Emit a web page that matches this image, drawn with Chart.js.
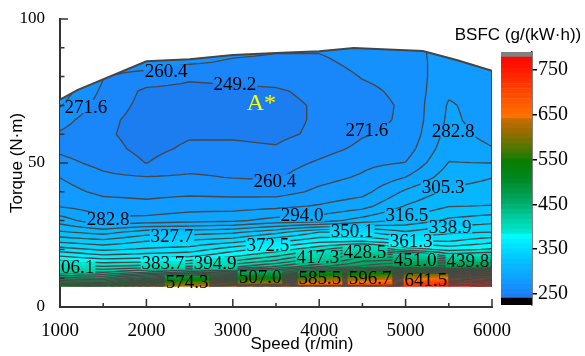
<!DOCTYPE html>
<html><head><meta charset="utf-8">
<script src="https://cdn.jsdelivr.net/npm/chart.js@4"></script>
<style>
html,body{margin:0;padding:0;background:#fff;}
#wrap{position:relative;width:585px;height:356px;overflow:hidden;}
#main{position:absolute;left:0;top:0;}
#cb{position:absolute;left:440px;top:0;}
</style></head><body>
<div id="wrap">
<canvas id="main" width="585" height="356"></canvas>
<canvas id="cb" width="145" height="356"></canvas>
</div>
<script>
// ---------- data ----------
const speeds  = [1000,1500,2000,2500,3000,3500,4000,4500,5000,5500,6000];
const torques = [7,8.5,10,12,14,16,18,20,23,26,30,35,40,45,50,55,60,65,70,75,80,85,90];
// BSFC (g/(kW·h)) per speed column, one value per torque row
const bsfc_1000 = [540,490,455,425,403,385,370,355,335,318,300,282,276,271.5,264,258,259,265,272.5,278,283,287,290];
const bsfc_1500 = [530,485,450,418,396,378,362,348,330,312,285,277,269,263,257,253,251,252,255,258,261,265,269];
const bsfc_2000 = [600,540,480,430,400,380,365,352,338,322,287,275,268,261,249,246,245,245,246,247,256,266,272];
const bsfc_2500 = [640,580,510,445,408,385,368,355,340,322,290,278,269,262,256,251,248,246,245,246,251,262,268];
const bsfc_3000 = [650,590,530,460,415,395,380,368,345,325,292,278,268,260,256,251,248,246,246,247,252,259,264];
const bsfc_3500 = [680,610,530,470,430,408,392,378,358,335,298,280,267,259,255,250,247,246,246,248,253,258,262];
const bsfc_4000 = [700,640,590,500,450,428,410,392,368,350,300,284,274,268,262,256,251,250.5,250.5,252,254,258,262];
const bsfc_4500 = [720,660,600,520,465,450,438,410,370,351,310,290,279,273,269,263,259.5,257,256,258,261,264,266];
const bsfc_5000 = [740,690,630,540,480,455,430,390,361,340,320,306,296,283,272,266,263,262,262,263,264,265,266];
const bsfc_5500 = [760,720,660,560,480,441,400,380,360,348,330,316,308,300,294.5,290,287,285,284,281,279,278,278];
const bsfc_6000 = [770,740,680,580,490,438,405,385,368,350,335,317,310,305,294,283.5,279,278,278,279,280,281,282];
const bsfcColumns = [bsfc_1000,bsfc_1500,bsfc_2000,bsfc_2500,bsfc_3000,bsfc_3500,bsfc_4000,bsfc_4500,bsfc_5000,bsfc_5500,bsfc_6000];

// full-load (max torque) curve and lower limit
const maxTorqueSpeeds = [1000,1200,2000,2500,3000,3500,4000,4400,5200,5600,6000];
const maxTorqueValues = [72,75.3,85.3,86,87.5,88.2,88.8,89.9,88.9,85.7,82];
const minTorque = 7;

// contour levels
const levelFirst = 249.2, levelStep = 11.2086;

// contour labels
const labelTexts   = ['260.4','249.2','271.6','271.6','282.8','260.4','282.8','294.0','305.3','316.5','338.9','327.7','350.1','361.3','372.5','383.7','394.9','406.1','417.3','428.5','451.0','439.8','574.3','507.0','585.5','596.7','641.5'];
const labelSpeeds  = [2227,3025,1300,4553,5549,3488,1556,3801,5433,5016,5514,2296,4380,5063,3407,2192,2794,1150,3986,4530,5109,5722,2470,3315,4009,4588,5236];
const labelTorques = [81.8,77.3,69.6,61.6,61.2,43.8,30.5,31.9,41.7,31.9,27.8,24.6,26.4,22.9,21.5,15.2,15.2,13.9,17.3,19.0,16.3,15.9,8.6,10.3,10.0,10.0,9.3];
const optimumText = 'A*', optimumSpeed = 3330, optimumTorque = 70.5;

// colour scale
const cbTicks = [250,350,450,550,650,750];
const cbLow = 241, cbHigh = 779, cbUnder = 225.4, cbOver = 790.2;
const cmapStops = [
  [238, 28,120,235],[255, 25,135,250],[270, 20,148,255],[290, 12,165,255],
  [320, 5,190,255],[350, 0,220,255],[382, 0,255,255],[383, 0,235,215],
  [420, 0,205,160],[460, 0,165,95],[510, 0,135,30],[545, 10,125,0],
  [580, 90,118,0],[615, 160,108,0],[645, 205,108,0],[646, 255,115,0],
  [700, 255,70,0],[750, 255,25,0],[790, 255,0,0]
];

// ---------- helpers ----------
const SERIF = '"Liberation Serif","Times New Roman",serif';
const SANS = '"Liberation Sans",Arial,sans-serif';
const grid = torques.map((t, j) => speeds.map((s, i) => bsfcColumns[i][j]));

function cmap(v) {
  if (v <= cmapStops[0][0]) return cmapStops[0].slice(1);
  for (let k = 0; k < cmapStops.length - 1; k++) {
    const a = cmapStops[k], b = cmapStops[k+1];
    if (v <= b[0]) {
      const f = (v - a[0]) / (b[0] - a[0]);
      return [0,1,2].map(c => Math.round(a[c+1] + (b[c+1]-a[c+1])*f));
    }
  }
  return cmapStops[cmapStops.length-1].slice(1);
}
function bandColor(v) {
  const base = levelFirst - levelStep;
  const k = Math.floor((v - base) / levelStep);
  return cmap(base + (k + 0.5) * levelStep);
}
function bilinear(s, t) {
  s = Math.min(Math.max(s, speeds[0]), speeds[speeds.length-1]);
  t = Math.min(Math.max(t, torques[0]), torques[torques.length-1]);
  let i = 0; while (i < speeds.length - 2 && s > speeds[i+1]) i++;
  let j = 0; while (j < torques.length - 2 && t > torques[j+1]) j++;
  const fs = (s - speeds[i]) / (speeds[i+1] - speeds[i]);
  const ft = (t - torques[j]) / (torques[j+1] - torques[j]);
  return grid[j][i]*(1-fs)*(1-ft) + grid[j][i+1]*fs*(1-ft) + grid[j+1][i]*(1-fs)*ft + grid[j+1][i+1]*fs*ft;
}
// refined grid for contour tracing
const R = 4;
function refine(arr) { const out = []; for (let i = 0; i < arr.length-1; i++) for (let a = 0; a < R; a++) out.push(arr[i] + (arr[i+1]-arr[i])*a/R); out.push(arr[arr.length-1]); return out; }
const RS = refine(speeds), RT = refine(torques);
const RV = RT.map(t => RS.map(s => bilinear(s, t)));
function contourSegments(level) {
  const segs = [];
  for (let j = 0; j < RT.length-1; j++) for (let i = 0; i < RS.length-1; i++) {
    const a = RV[j][i], b = RV[j][i+1], c = RV[j+1][i+1], d = RV[j+1][i];
    let idx = 0; if (a>level) idx|=1; if (b>level) idx|=2; if (c>level) idx|=4; if (d>level) idx|=8;
    if (idx === 0 || idx === 15) continue;
    const s0 = RS[i], s1 = RS[i+1], t0 = RT[j], t1 = RT[j+1];
    const e = (va, vb) => (level - va) / (vb - va);
    const pB = () => [s0 + (s1-s0)*e(a,b), t0];
    const pR = () => [s1, t0 + (t1-t0)*e(b,c)];
    const pT = () => [s0 + (s1-s0)*e(d,c), t1];
    const pL = () => [s0, t0 + (t1-t0)*e(a,d)];
    const m = (a+b+c+d)/4;
    switch (idx) {
      case 1: case 14: segs.push([pL(), pB()]); break;
      case 2: case 13: segs.push([pB(), pR()]); break;
      case 3: case 12: segs.push([pL(), pR()]); break;
      case 4: case 11: segs.push([pR(), pT()]); break;
      case 6: case 9: segs.push([pB(), pT()]); break;
      case 7: case 8: segs.push([pL(), pT()]); break;
      case 5: if (m > level) { segs.push([pL(),pT()]); segs.push([pB(),pR()]); } else { segs.push([pL(),pB()]); segs.push([pR(),pT()]); } break;
      case 10: if (m > level) { segs.push([pL(),pB()]); segs.push([pR(),pT()]); } else { segs.push([pL(),pT()]); segs.push([pB(),pR()]); } break;
    }
  }
  return segs;
}
function boundaryPath(ctx, x, y) {
  ctx.beginPath();
  ctx.moveTo(x.getPixelForValue(speeds[0]), y.getPixelForValue(minTorque));
  ctx.lineTo(x.getPixelForValue(speeds[speeds.length-1]), y.getPixelForValue(minTorque));
  for (let k = maxTorqueSpeeds.length - 1; k >= 0; k--) ctx.lineTo(x.getPixelForValue(maxTorqueSpeeds[k]), y.getPixelForValue(maxTorqueValues[k]));
  ctx.closePath();
}
const LABEL_FONT = '19px ' + SERIF;

const fieldPlugin = {
  id: 'field',
  beforeDatasetsDraw(chart) {
    const {ctx, chartArea: ca, scales: {x, y}} = chart;
    const L = Math.floor(ca.left), T = Math.floor(ca.top);
    const W = Math.ceil(ca.right) - L, H = Math.ceil(ca.bottom) - T;
    const off = document.createElement('canvas'); off.width = W; off.height = H;
    const octx = off.getContext('2d');
    const img = octx.createImageData(W, H);
    for (let py = 0; py < H; py++) {
      const t = y.getValueForPixel(T + py + 0.5);
      for (let px = 0; px < W; px++) {
        const s = x.getValueForPixel(L + px + 0.5);
        const c = bandColor(bilinear(s, t));
        const q = (py*W + px)*4;
        img.data[q] = c[0]; img.data[q+1] = c[1]; img.data[q+2] = c[2]; img.data[q+3] = 255;
      }
    }
    octx.putImageData(img, 0, 0);
    ctx.save();
    boundaryPath(ctx, x, y); ctx.clip();
    ctx.drawImage(off, L, T);
    // clip out label boxes
    ctx.font = LABEL_FONT;
    ctx.beginPath();
    ctx.rect(ca.left - 10, ca.top - 10, ca.right - ca.left + 20, ca.bottom - ca.top + 20);
    labelTexts.forEach((txt, k) => {
      const w = ctx.measureText(txt).width + 2;
      const cx = x.getPixelForValue(labelSpeeds[k]), cy = y.getPixelForValue(labelTorques[k]);
      ctx.rect(cx - w/2, cy - 6.5, w, 13);
    });
    ctx.clip('evenodd');
    ctx.strokeStyle = '#474747'; ctx.lineCap = 'butt'; ctx.lineJoin = 'round';
    for (let lv = levelFirst; lv < cbOver; lv += levelStep) {
      const segs = contourSegments(lv);
      ctx.lineWidth = lv > 460 ? 1.0 : 1.35;
      ctx.beginPath();
      segs.forEach(sg => {
        ctx.moveTo(x.getPixelForValue(sg[0][0]), y.getPixelForValue(sg[0][1]));
        ctx.lineTo(x.getPixelForValue(sg[1][0]), y.getPixelForValue(sg[1][1]));
      });
      ctx.stroke();
    }
    ctx.restore();
  },
  afterDatasetsDraw(chart) {
    const {ctx, chartArea: ca, scales: {x, y}} = chart;
    ctx.save();
    ctx.beginPath(); ctx.rect(ca.left + 1, ca.top, ca.right - ca.left, ca.bottom - ca.top); ctx.clip();
    ctx.font = LABEL_FONT; ctx.fillStyle = '#000'; ctx.textAlign = 'center'; ctx.textBaseline = 'middle';
    labelTexts.forEach((txt, k) => ctx.fillText(txt, x.getPixelForValue(labelSpeeds[k]), y.getPixelForValue(labelTorques[k]) + 1));
    ctx.font = '24px ' + SERIF; ctx.fillStyle = '#ffff00';
    ctx.fillText(optimumText, x.getPixelForValue(optimumSpeed), y.getPixelForValue(optimumTorque));
    ctx.restore();
  },
  afterDraw(chart) {
    const {ctx, chartArea: ca, scales: {x, y}} = chart;
    ctx.save();
    ctx.strokeStyle = '#333'; ctx.lineWidth = 1.5;
    ctx.beginPath();
    x.ticks.forEach(tk => {
      const px = x.getPixelForValue(tk.value);
      const len = tk.value % 1000 === 0 ? 8 : 4;
      ctx.moveTo(px, ca.bottom); ctx.lineTo(px, ca.bottom - len);
    });
    y.ticks.forEach(tk => {
      const py = y.getPixelForValue(tk.value);
      const len = tk.value % 50 === 0 ? 8 : 4.5;
      ctx.moveTo(ca.left, py); ctx.lineTo(ca.left + len, py);
    });
    ctx.stroke();
    ctx.fillStyle = '#000'; ctx.font = '17px ' + SANS; ctx.textAlign = 'center'; ctx.textBaseline = 'middle';
    ctx.fillText('Speed (r/min)', 302, 344);
    ctx.restore();
  }
};

const mainChart = new Chart(document.getElementById('main'), {
  type: 'line',
  data: {
    datasets: [{
      data: maxTorqueSpeeds.map((s, k) => ({x: s, y: maxTorqueValues[k]})).concat([{x: speeds[speeds.length-1], y: minTorque}]),
      borderColor: '#454545', borderWidth: 2, pointRadius: 0, fill: false, tension: 0
    }]
  },
  options: {
    responsive: false, animation: false, devicePixelRatio: 1,
    layout: {padding: {top: 19, right: 93, left: 0, bottom: 0}},
    plugins: {legend: {display: false}, tooltip: {enabled: false}},
    scales: {
      x: {
        type: 'linear', min: 1000, max: 6000, z: 1,
        afterFit: s => { s.height = 49; },
        grid: {display: false},
        border: {display: true, color: '#333', width: 2},
        ticks: {stepSize: 500, autoSkip: false, maxRotation: 0, padding: 5, color: '#000',
          font: {family: SERIF, size: 19},
          callback: v => (v % 1000 === 0 ? String(v) : '')}
      },
      y: {
        type: 'linear', min: 0, max: 100, z: 1,
        afterFit: s => { s.width = 60; },
        grid: {display: false},
        border: {display: true, color: '#333', width: 2},
        title: {display: true, text: 'Torque (N·m)', color: '#000', font: {family: SANS, size: 17}, padding: {top: 7, bottom: 0}},
        ticks: {stepSize: 10, autoSkip: false, padding: 7, color: '#000',
          font: {family: SERIF, size: 17},
          callback: v => (v % 50 === 0 ? String(v) : '')}
      }
    }
  },
  plugins: [fieldPlugin]
});

// ---------- colour bar ----------
const cbEdges = [cbLow];
for (let lv = levelFirst; lv < cbHigh; lv += levelStep) if (lv > cbLow) cbEdges.push(lv);
cbEdges.push(cbHigh);
const cbDatasets = [];
cbDatasets.push({data: [[cbUnder, cbLow]], backgroundColor: '#000'});
for (let k = 0; k < cbEdges.length - 1; k++) {
  const c = bandColor((cbEdges[k] + cbEdges[k+1]) / 2);
  cbDatasets.push({data: [[cbEdges[k], cbEdges[k+1]]], backgroundColor: `rgb(${c[0]},${c[1]},${c[2]})`});
}
cbDatasets.push({data: [[cbHigh, cbOver]], backgroundColor: '#808080'});
cbDatasets.forEach(d => { d.borderWidth = 0; d.barPercentage = 1; d.categoryPercentage = 1; d.grouped = false; });

const cbTitlePlugin = {
  id: 'cbTitle',
  afterDraw(chart) {
    const ctx = chart.ctx;
    ctx.save(); ctx.fillStyle = '#000'; ctx.font = '17px ' + SANS; ctx.textAlign = 'center'; ctx.textBaseline = 'middle';
    ctx.fillText('BSFC (g/(kW·h))', 78, 35);
    ctx.restore();
  }
};
new Chart(document.getElementById('cb'), {
  type: 'bar',
  data: {labels: ['BSFC'], datasets: cbDatasets},
  options: {
    responsive: false, animation: false, devicePixelRatio: 1,
    layout: {padding: {left: 61, top: 52, bottom: 51, right: 0}},
    plugins: {legend: {display: false}, tooltip: {enabled: false}},
    scales: {
      x: {display: false},
      y: {
        position: 'right', min: cbUnder, max: cbOver,
        afterFit: s => { s.width = 53; },
        afterBuildTicks: ax => { ax.ticks = cbTicks.map(v => ({value: v})); },
        grid: {drawOnChartArea: false, drawTicks: true, tickLength: 5, color: '#000', lineWidth: 1.5},
        border: {display: true, color: '#000', width: 1.5},
        ticks: {padding: 1, color: '#000', font: {family: SERIF, size: 20}}
      }
    }
  },
  plugins: [cbTitlePlugin]
});
</script>
</body></html>
